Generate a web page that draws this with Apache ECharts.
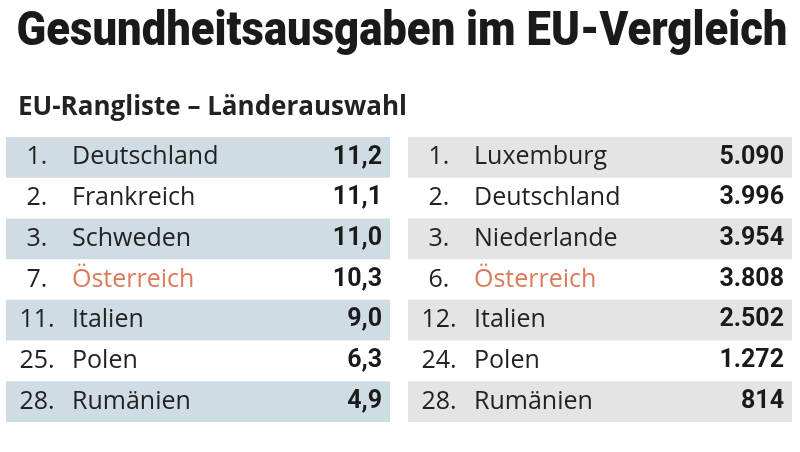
<!DOCTYPE html>
<html>
<head>
<meta charset="utf-8">
<script src="https://cdn.jsdelivr.net/npm/echarts@6/dist/echarts.min.js"></script>
<style>html,body{margin:0;padding:0;background:#fff}#c{width:800px;height:452px}</style>
</head>
<body>
<div id="c"></div>
<script>
const titleText = 'Gesundheitsausgaben im EU-Vergleich';
const subtitleText = 'EU-Rangliste – Länderauswahl';

const ranksLeft = ['1.', '2.', '3.', '7.', '11.', '25.', '28.'];
const countriesLeft = ['Deutschland', 'Frankreich', 'Schweden', 'Österreich', 'Italien', 'Polen', 'Rumänien'];
const valuesLeft = [11.2, 11.1, 11.0, 10.3, 9.0, 6.3, 4.9];

const ranksRight = ['1.', '2.', '3.', '6.', '12.', '24.', '28.'];
const countriesRight = ['Luxemburg', 'Deutschland', 'Niederlande', 'Österreich', 'Italien', 'Polen', 'Rumänien'];
const valuesRight = [5090, 3996, 3954, 3808, 2502, 1272, 814];

const highlightCountry = 'Österreich';

const fmtLeft = v => v.toFixed(1).replace('.', ',');
const fmtRight = v => String(v).replace(/\B(?=(\d{3})+(?!\d))/g, '.');

const chart = echarts.init(document.getElementById('c'), null, {renderer: 'canvas'});

function makeRender(ranks, countries, values, fmt) {
  return function (params, api) {
    const i = params.dataIndex;
    const cs = params.coordSys;
    const y = api.coord([0, i])[1];
    const isHl = countries[i] === highlightCountry;
    return {
      type: 'group',
      children: [
        {type: 'text', style: {text: ranks[i], x: cs.x + 31, y: y, align: 'center', verticalAlign: 'middle',
          fontFamily: 'Open Sans', fontSize: 25, fill: '#222'}},
        {type: 'text', style: {text: countries[i], x: cs.x + 66, y: y, align: 'left', verticalAlign: 'middle',
          fontFamily: 'Open Sans', fontSize: 25, fill: isHl ? '#dc7a5a' : '#222'}},
        {type: 'text', style: {text: fmt(values[i]), x: cs.x + cs.width - 8, y: y, align: 'right', verticalAlign: 'middle',
          fontFamily: 'Roboto', fontWeight: 'bold', fontSize: 25, fill: '#1a1a1a'}}
      ]
    };
  };
}

function yAx(gi, countries, bandColor) {
  return {
    type: 'category', gridIndex: gi, data: countries, inverse: true,
    axisLine: {show: false}, axisTick: {show: false}, axisLabel: {show: false},
    splitLine: {show: false},
    splitArea: {show: true, interval: 0, areaStyle: {color: [bandColor, 'rgba(255,255,255,0)']}}
  };
}

chart.setOption({
  animation: false,
  backgroundColor: '#ffffff',
  title: [
    {text: subtitleText, left: 18, top: 95, padding: 0,
     textStyle: {fontFamily: 'Open Sans', fontWeight: 'bold', fontSize: 26, color: '#222'}}
  ],
  graphic: [
    {type: 'text', x: 402, y: 33, scaleX: 0.89, scaleY: 1,
     style: {text: titleText, align: 'center', verticalAlign: 'middle',
       fontFamily: 'Roboto', fontWeight: 900, fontSize: 49, fill: '#1a1a1a'}}
  ],
  grid: [
    {left: 6, width: 384, top: 137, height: 285},
    {left: 408, width: 384, top: 137, height: 285}
  ],
  xAxis: [
    {type: 'value', gridIndex: 0, min: 0, max: 1, show: false},
    {type: 'value', gridIndex: 1, min: 0, max: 1, show: false}
  ],
  yAxis: [
    yAx(0, countriesLeft, '#d0dce4'),
    yAx(1, countriesRight, '#e4e4e4')
  ],
  series: [
    {type: 'custom', xAxisIndex: 0, yAxisIndex: 0,
     data: countriesLeft.map((c, i) => [0, i]), encode: {x: 0, y: 1},
     renderItem: makeRender(ranksLeft, countriesLeft, valuesLeft, fmtLeft)},
    {type: 'custom', xAxisIndex: 1, yAxisIndex: 1,
     data: countriesRight.map((c, i) => [0, i]), encode: {x: 0, y: 1},
     renderItem: makeRender(ranksRight, countriesRight, valuesRight, fmtRight)}
  ]
});
</script>
</body>
</html>
